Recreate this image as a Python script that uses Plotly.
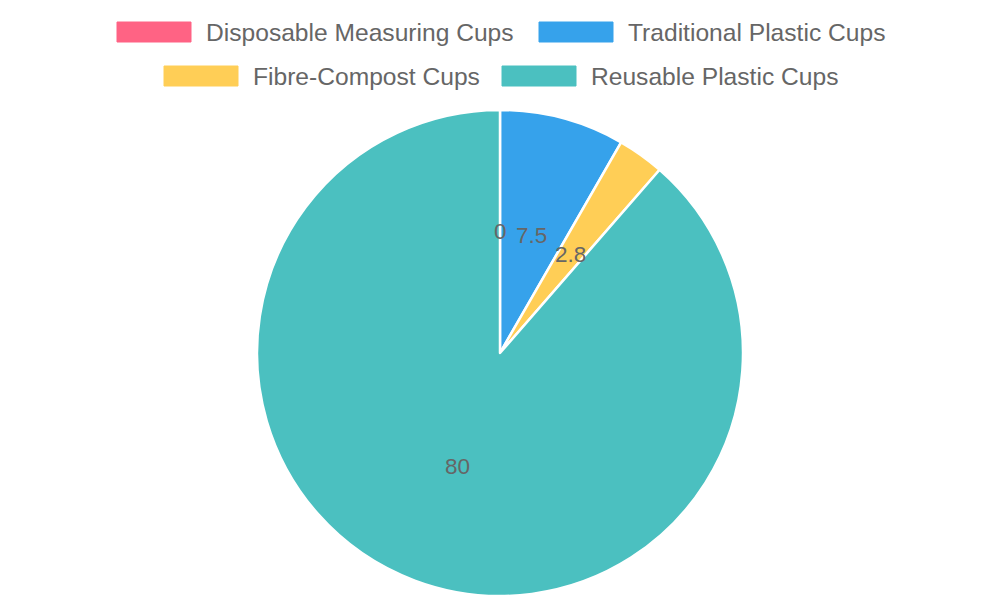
import math
import plotly.graph_objects as go

categories = ["Disposable Measuring Cups", "Traditional Plastic Cups", "Fibre-Compost Cups", "Reusable Plastic Cups"]
values = [0, 7.5, 2.8, 80]
colors = ["#FF6384", "#36A2EB", "#FFCE56", "#4BC0C0"]
value_labels = ["0", "7.5", "2.8", "80"]

W, H = 1000, 600
pie_top, pie_bottom = 110, 4  # px margins of pie domain
cx = W / 2
cy_from_bottom = pie_bottom + (H - pie_top - pie_bottom) / 2
radius = min(W, H - pie_top - pie_bottom) / 2

FONT = "Liberation Sans, Arial, Helvetica, sans-serif"

fig = go.Figure(go.Pie(
    labels=categories,
    values=values,
    marker=dict(colors=colors, line=dict(color="white", width=2.5)),
    sort=False,
    direction="clockwise",
    rotation=0,
    textinfo="none",
    hoverinfo="label+value",
    showlegend=False,
    domain=dict(x=[0, 1], y=[pie_bottom / H, 1 - pie_top / H]),
))

annotations = []
shapes = []

# value labels at half radius, mid-angle of each slice
total = sum(values)
cum = 0.0
for v, lab in zip(values, value_labels):
    mid = (cum + v / 2) / total * 2 * math.pi
    cum += v
    r = radius * 0.5
    px = cx + r * math.sin(mid)
    py = cy_from_bottom + r * math.cos(mid)
    annotations.append(dict(
        x=px / W, y=py / H, xref="paper", yref="paper",
        text=lab, showarrow=False,
        font=dict(family=FONT, size=22.5, color="#666666"),
        xanchor="center", yanchor="middle",
    ))

# custom legend (layout positions in px from top-left)
legend_layout = [
    (117, 204, 32),
    (539, 626, 32),
    (164, 251, 76),
    (502, 589, 76),
]
box_w, box_h = 74, 20
for (bx, tx, ry), name, col in zip(legend_layout, categories, colors):
    shapes.append(dict(
        type="rect", xref="paper", yref="paper",
        x0=bx / W, x1=(bx + box_w) / W,
        y0=(H - ry - box_h / 2) / H, y1=(H - ry + box_h / 2) / H,
        fillcolor=col, line=dict(color=col, width=1),
    ))
    annotations.append(dict(
        x=tx / W, y=(H - ry) / H, xref="paper", yref="paper",
        text=name, showarrow=False,
        font=dict(family=FONT, size=24.6, color="#666666"),
        xanchor="left", yanchor="middle",
    ))

fig.update_layout(
    width=W, height=H,
    margin=dict(l=0, r=0, t=0, b=0),
    paper_bgcolor="white",
    plot_bgcolor="white",
    annotations=annotations,
    shapes=shapes,
    showlegend=False,
)

fig.write_html("out.html")
